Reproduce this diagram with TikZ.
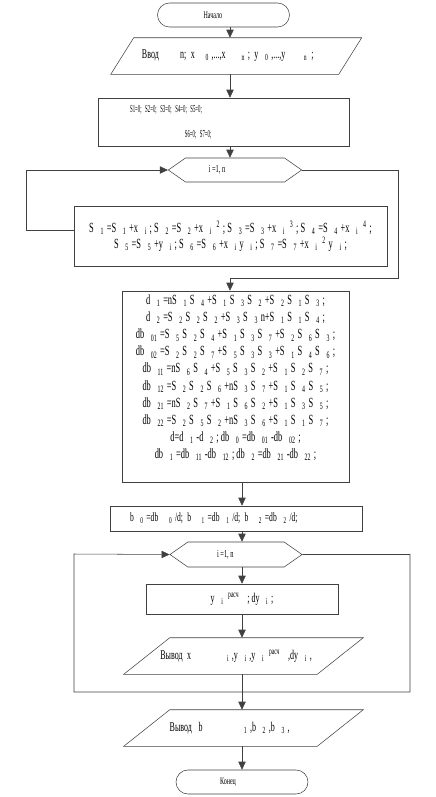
\documentclass[tikz,border=0pt]{standalone}
\usepackage{fontspec}
\setmainfont[FakeStretch=0.6]{Liberation Serif}
\newfontfamily\tightfont[FakeStretch=0.45]{Liberation Serif}
\usetikzlibrary{arrows.meta,shapes.symbols}

\newcommand\subx[1]{\hspace{5pt}\textsubscript{#1}\hspace{2pt}}
\newcommand\supx[1]{\hspace{1.5pt}\textsuperscript{#1}\hspace{2pt}}

\begin{document}
\begin{tikzpicture}[x=0.75pt,y=-0.75pt,->,>={Triangle[length=6pt,width=5.5pt]},thin,draw=black!75,
  every node/.style={font=\fontsize{10}{11}\selectfont},
  term node/.style={draw,rectangle,rounded corners=9pt,minimum width=99pt,minimum height=18pt,font=\fontsize{7.5}{9}\selectfont},
  box node/.style={draw,rectangle,inner sep=1pt},
  io node/.style={rectangle,minimum height=27pt,inner sep=1pt,align=left},
  loop node/.style={draw,signal,signal to=west and east,signal pointer angle=70,minimum width=100pt,minimum height=18pt,inner sep=1pt,font=\fontsize{8}{9}\selectfont}]
\useasboundingbox (0,0) rectangle (436,797);

\node[term node] (1) at (223.5,15) {Начало\hspace{16pt}\mbox{}};
\node[io node,inner xsep=14.6pt,text width=141.4pt] (2) at (236.25,56)
  {Ввод\hspace{16pt}n; x\hspace{8pt}\textsubscript{0}\hspace{2pt},...,x\hspace{12pt}\textsubscript{n}\hspace{2pt}; y\hspace{5pt}\textsubscript{0}\hspace{2pt},...,y\hspace{14pt}\textsubscript{n}\hspace{3pt};};
\node[box node,minimum height=36pt,inner xsep=24pt,text width=140pt,align=left,font=\tightfont\fontsize{8}{9}\selectfont] (3) at (223.5,122)
  {S1=0; S2=0; S3=0; S4=0; S5=0;\\[10pt]\hspace*{41pt}S6=0; S7=0;};
\node[loop node] (4) at (235,170) {i =1, n\hspace{27pt}\mbox{}};
\node[box node,minimum width=234.75pt,minimum height=45pt,align=center,font=\fontsize{10.5}{12}\selectfont] (5) at (230.5,236)
  {S\subx{1}=S\subx{1}+x\subx{i}; S\subx{2}=S\subx{2}+x\subx{i}\supx{2}; S\subx{3}=S\subx{3}+x\subx{i}\supx{3}; S\subx{4}=S\subx{4}+x\subx{i}\supx{4};\\
   S\subx{5}=S\subx{5}+y\subx{i}; S\subx{6}=S\subx{6}+x\subx{i}y\subx{i}; S\subx{7}=S\subx{7}+x\subx{i}\supx{2}y\subx{i};};
\node[box node,minimum width=170.25pt,minimum height=143.25pt,align=center,font=\fontsize{10.5}{12.8}\selectfont] (6) at (235.5,386.5)
  {d\subx{1}=nS\subx{1}S\subx{4}+S\subx{1}S\subx{3}S\subx{2}+S\subx{2}S\subx{1}S\subx{3};\\
   d\subx{2}=S\subx{2}S\subx{2}S\subx{2}+S\subx{3}S\subx{3}n+S\subx{1}S\subx{1}S\subx{4};\\
   db\subx{01}=S\subx{5}S\subx{2}S\subx{4}+S\subx{1}S\subx{3}S\subx{7}+S\subx{2}S\subx{6}S\subx{3};\\
   db\subx{02}=S\subx{2}S\subx{2}S\subx{7}+S\subx{5}S\subx{3}S\subx{3}+S\subx{1}S\subx{4}S\subx{6};\\
   db\subx{11}=nS\subx{6}S\subx{4}+S\subx{5}S\subx{3}S\subx{2}+S\subx{1}S\subx{2}S\subx{7};\\
   db\subx{12}=S\subx{2}S\subx{2}S\subx{6}+nS\subx{3}S\subx{7}+S\subx{1}S\subx{4}S\subx{5};\\
   db\subx{21}=nS\subx{2}S\subx{7}+S\subx{1}S\subx{6}S\subx{2}+S\subx{1}S\subx{3}S\subx{5};\\
   db\subx{22}=S\subx{2}S\subx{5}S\subx{2}+nS\subx{3}S\subx{6}+S\subx{1}S\subx{1}S\subx{7};\\
   d=d\subx{1}-d\subx{2}; db\subx{0}=db\subx{01}-db\subx{02};\\
   db\subx{1}=db\subx{11}-db\subx{12}; db\subx{2}=db\subx{21}-db\subx{22};\\[2pt]\mbox{}};
\node[box node,minimum height=18.75pt,inner xsep=15pt,text width=159pt,align=left,font=\fontsize{9.5}{10}\selectfont] (7) at (236,518.5)
  {b\subx{0}=db\hspace{3pt}\subx{0}/d; b\hspace{3pt}\subx{1}=db\subx{1}/d; b\hspace{3pt}\subx{2}=db\subx{2}/d;};
\node[loop node,minimum width=99pt,minimum height=18.75pt] (8) at (236,554.5) {i =1, n\hspace{16pt}\mbox{}};
\node[box node,minimum width=144pt,minimum height=22.5pt] (9) at (242,599)
  {y\subx{i}\supx{расч}\hspace{4pt}; dy\subx{i};};
\node[io node,inner xsep=10pt,text width=124.75pt] (10) at (243.5,656)
  {Вывод x\hspace{22pt}\subx{i},y\subx{i},y\subx{i}\supx{расч}\hspace{4pt},dy\subx{i},};
\node[io node,inner xsep=17pt,text width=110.75pt] (11) at (243.5,728)
  {Вывод\hspace{5pt}b\hspace{26pt}\subx{1},b\subx{2},b\subx{3},};
\node[term node] (12) at (242,782) {Конец\hspace{21pt}\mbox{}};

% slanted outlines of the input/output blocks
\draw[-] ([xshift=-8.6pt]2.south west) -- ([xshift=8.6pt]2.north west) -- ([xshift=8.6pt]2.north east) -- ([xshift=-8.6pt]2.south east) -- cycle;
\draw[-] ([xshift=-17.25pt]10.south west) -- ([xshift=17.25pt]10.north west) -- ([xshift=17.25pt]10.north east) -- ([xshift=-17.25pt]10.south east) -- cycle;
\draw[-] ([xshift=-17.25pt]11.south west) -- ([xshift=17.25pt]11.north west) -- ([xshift=17.25pt]11.north east) -- ([xshift=-17.25pt]11.south east) -- cycle;

% main columns
\coordinate (c1) at (230,0);
\coordinate (c2) at (242,0);

\draw (c1 |- 1.south) -- (c1 |- 2.north);
\draw (c1 |- 2.south) -- (c1 |- 3.north);
\draw (c1 |- 3.south) -- (c1 |- 4.north);
\draw ([yshift=4.5pt]5.west) -- ++(-47,0) |- (4.west);
\draw (4.east) -| (398,278) -| (c1 |- 6.north);

\draw (c2 |- 6.south) -- (c2 |- 7.north);
\draw (c2 |- 7.south) -- (c2 |- 8.north);
\draw (c2 |- 8.south) -- (c2 |- 9.north);
\draw (c2 |- 9.south) -- (c2 |- 10.north);
\draw (8.east) -| (410,692) -| (74,554) -- (8.west);
\draw (c2 |- 10.south) -- (c2 |- 11.north);
\draw (c2 |- 11.south) -- (c2 |- 12.north);
\end{tikzpicture}
\end{document}
